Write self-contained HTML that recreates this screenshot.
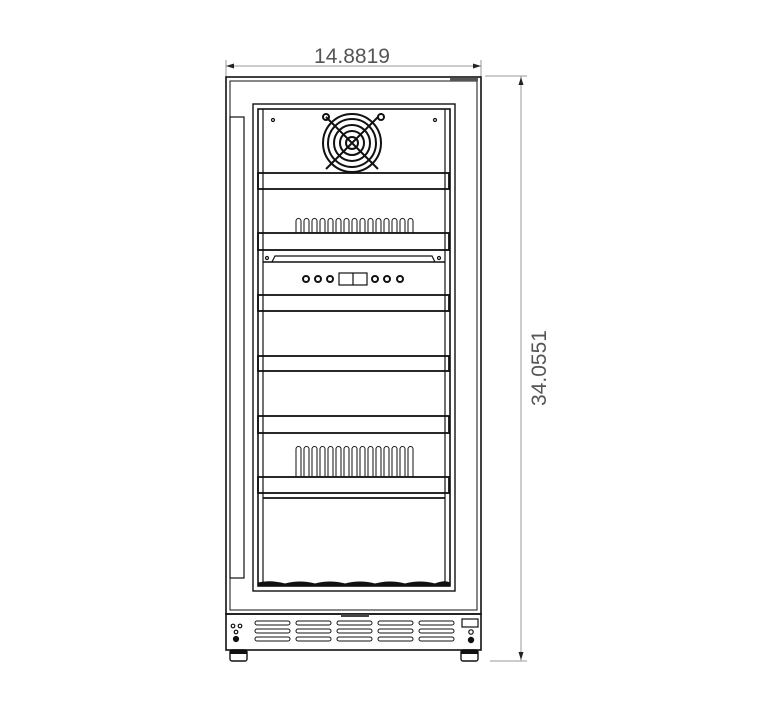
<!DOCTYPE html>
<html><head><meta charset="utf-8"><style>html,body{margin:0;padding:0;background:#fff}svg{display:block}</style></head>
<body>
<svg width="768" height="711" viewBox="0 0 768 711" xmlns="http://www.w3.org/2000/svg" fill="none" stroke="#111" stroke-width="1.2">
<g stroke="#999" stroke-width="1">
<line x1="226" y1="66" x2="481" y2="66"/>
<line x1="226" y1="60" x2="226" y2="77"/>
<line x1="481" y1="60" x2="481" y2="77"/>
<line x1="485" y1="76" x2="527" y2="76"/>
<line x1="490" y1="661" x2="527" y2="661"/>
<line x1="521" y1="76" x2="521" y2="661"/>
</g>
<path d="M226 66 l8 -2.5 v5z M481 66 l-8 -2.5 v5z M521 77 l-2.5 8 h5z M521 660 l-2.5 -8 h5z" fill="#222" stroke="none"/>
<text x="352" y="63" font-family="Liberation Sans, sans-serif" font-size="21" fill="#555" stroke="none" text-anchor="middle">14.8819</text>
<text transform="translate(546 368) rotate(-90)" font-family="Liberation Sans, sans-serif" font-size="21" fill="#555" stroke="none" text-anchor="middle">34.0551</text>
<rect x="226" y="77" width="255" height="537" stroke-width="1.6"/>
<rect x="230" y="81" width="247" height="529" stroke-width="1"/>
<rect x="450" y="78" width="28" height="3" fill="#555" stroke="none"/>
<rect x="230" y="117" width="14" height="461" stroke-width="1.2"/>
<rect x="253" y="104" width="202" height="487" stroke-width="1.4"/>
<rect x="258" y="109" width="192" height="477" stroke-width="1.6"/>
<line x1="263" y1="109" x2="263" y2="583"/>
<line x1="445" y1="109" x2="445" y2="583"/>
<g stroke-width="2">
<circle cx="352" cy="143" r="29"/><circle cx="352" cy="143" r="24"/><circle cx="352" cy="143" r="18"/><circle cx="352" cy="143" r="12"/><circle cx="352" cy="143" r="6"/>
<line x1="326" y1="117" x2="378" y2="169"/><line x1="378" y1="117" x2="326" y2="169"/>
<circle cx="326" cy="117" r="3"/><circle cx="381" cy="117" r="3"/>
</g>
<circle cx="273" cy="120" r="1.5"/><circle cx="435" cy="120" r="1.5"/>
<g stroke-width="1.8">
<rect x="258" y="173" width="191" height="16"/>
<rect x="258" y="233" width="191" height="17"/>
<rect x="258" y="295" width="191" height="16"/>
<rect x="258" y="356" width="191" height="15"/>
<rect x="258" y="416" width="191" height="17"/>
<rect x="258" y="477" width="191" height="16"/>
<line x1="263" y1="498" x2="445" y2="498"/>
</g>
<path d="M272 262 L275 256 H432 L435 262"/>
<line x1="263" y1="262" x2="445" y2="262" stroke-width="1.6"/>
<circle cx="267" cy="258" r="1.5"/><circle cx="439" cy="258" r="1.5"/>
<g fill="#fff" stroke-width="2">
<circle cx="306" cy="279" r="3"/><circle cx="318" cy="279" r="3"/><circle cx="330" cy="279" r="3"/>
<circle cx="375" cy="279" r="3"/><circle cx="387" cy="279" r="3"/><circle cx="400" cy="279" r="3"/>
</g>
<rect x="339" y="273" width="28" height="12"/><line x1="353" y1="273" x2="353" y2="285"/>
<g stroke-width="1">
<path d="M296 233 V221 a2.5 2.5 0 0 1 5 0 V233 M304 233 V221 a2.5 2.5 0 0 1 5 0 V233 M312 233 V221 a2.5 2.5 0 0 1 5 0 V233 M320 233 V221 a2.5 2.5 0 0 1 5 0 V233 M328 233 V221 a2.5 2.5 0 0 1 5 0 V233 M336 233 V221 a2.5 2.5 0 0 1 5 0 V233 M344 233 V221 a2.5 2.5 0 0 1 5 0 V233 M352 233 V221 a2.5 2.5 0 0 1 5 0 V233 M360 233 V221 a2.5 2.5 0 0 1 5 0 V233 M368 233 V221 a2.5 2.5 0 0 1 5 0 V233 M376 233 V221 a2.5 2.5 0 0 1 5 0 V233 M384 233 V221 a2.5 2.5 0 0 1 5 0 V233 M392 233 V221 a2.5 2.5 0 0 1 5 0 V233 M400 233 V221 a2.5 2.5 0 0 1 5 0 V233 M408 233 V221 a2.5 2.5 0 0 1 5 0 V233"/>
<path d="M296 477 V449 a2.5 2.5 0 0 1 5 0 V477 M304 477 V449 a2.5 2.5 0 0 1 5 0 V477 M312 477 V449 a2.5 2.5 0 0 1 5 0 V477 M320 477 V449 a2.5 2.5 0 0 1 5 0 V477 M328 477 V449 a2.5 2.5 0 0 1 5 0 V477 M336 477 V449 a2.5 2.5 0 0 1 5 0 V477 M344 477 V449 a2.5 2.5 0 0 1 5 0 V477 M352 477 V449 a2.5 2.5 0 0 1 5 0 V477 M360 477 V449 a2.5 2.5 0 0 1 5 0 V477 M368 477 V449 a2.5 2.5 0 0 1 5 0 V477 M376 477 V449 a2.5 2.5 0 0 1 5 0 V477 M384 477 V449 a2.5 2.5 0 0 1 5 0 V477 M392 477 V449 a2.5 2.5 0 0 1 5 0 V477 M400 477 V449 a2.5 2.5 0 0 1 5 0 V477 M408 477 V449 a2.5 2.5 0 0 1 5 0 V477"/>
</g>
<path d="M258 586 V583 Q270 580 285 584 Q300 580 315 584 Q330 580 345 584 Q360 580 375 584 Q390 580 405 584 Q420 580 435 584 Q445 580 450 583 V586 Z" fill="#111" stroke-width="1"/>
<rect x="226" y="614" width="255" height="36" stroke-width="1.6"/>
<rect x="341" y="614" width="28" height="3" fill="#444" stroke="none"/>
<g stroke-width="1">
<rect x="255" y="621" width="35" height="4" rx="2"/><rect x="296" y="621" width="35" height="4" rx="2"/><rect x="337" y="621" width="35" height="4" rx="2"/><rect x="378" y="621" width="35" height="4" rx="2"/><rect x="419" y="621" width="35" height="4" rx="2"/>
<rect x="255" y="629" width="35" height="4" rx="2"/><rect x="296" y="629" width="35" height="4" rx="2"/><rect x="337" y="629" width="35" height="4" rx="2"/><rect x="378" y="629" width="35" height="4" rx="2"/><rect x="419" y="629" width="35" height="4" rx="2"/>
<rect x="255" y="637" width="35" height="4" rx="2"/><rect x="296" y="637" width="35" height="4" rx="2"/><rect x="337" y="637" width="35" height="4" rx="2"/><rect x="378" y="637" width="35" height="4" rx="2"/><rect x="419" y="637" width="35" height="4" rx="2"/>
</g>
<circle cx="233" cy="626" r="1.8"/><circle cx="240" cy="626" r="1.8"/><circle cx="236" cy="632" r="1.8"/><circle cx="236" cy="639" r="2.5" fill="#111"/>
<circle cx="471" cy="632" r="2.2"/><circle cx="471" cy="640" r="2.6" fill="#111"/>
<rect x="462" y="619" width="16" height="8"/>
<rect x="230" y="650" width="17" height="11" rx="2" fill="#fff" stroke-width="1.4"/>
<rect x="461" y="650" width="17" height="11" rx="2" fill="#fff" stroke-width="1.4"/>
<rect x="230" y="650" width="17" height="4" fill="#111" stroke="none"/>
<rect x="461" y="650" width="17" height="4" fill="#111" stroke="none"/>
</svg>
</body></html>
